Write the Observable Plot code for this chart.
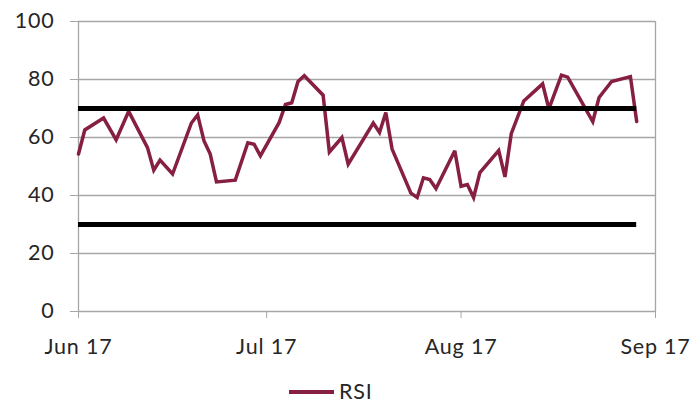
<!DOCTYPE html>
<html>
<head>
<meta charset="utf-8">
<script src="https://cdn.jsdelivr.net/npm/d3@7"></script>
<script src="https://cdn.jsdelivr.net/npm/@observablehq/plot@0.6"></script>
<style>
  html, body { margin: 0; padding: 0; background: #fff; }
  #chart svg text { letter-spacing: 0.8px; }
  #legend { position: relative; width: 691px; height: 35px; font-family: Lato, sans-serif; font-size: 21.5px; color: #262626; letter-spacing: 0.8px; }
  #legend .swatch { position: absolute; left: 289px; top: 20px; width: 45px; height: 4px; background: #861F41; }
  #legend .label { position: absolute; left: 339px; top: 7px; line-height: 28px; }
</style>
</head>
<body>
<div id="chart"></div>
<div id="legend"><span class="swatch"></span><span class="label">RSI</span></div>
<script>
// Trading dates and RSI values
const dates = [
  "2017-06-01","2017-06-02","2017-06-05","2017-06-07","2017-06-09","2017-06-12","2017-06-13",
  "2017-06-14","2017-06-16","2017-06-19","2017-06-20","2017-06-21","2017-06-22","2017-06-23",
  "2017-06-26","2017-06-28","2017-06-29","2017-06-30","2017-07-03","2017-07-04","2017-07-05",
  "2017-07-06","2017-07-07","2017-07-10","2017-07-11","2017-07-13","2017-07-14","2017-07-18",
  "2017-07-19","2017-07-20","2017-07-21","2017-07-24","2017-07-25","2017-07-26","2017-07-27",
  "2017-07-28","2017-07-31","2017-08-01","2017-08-02","2017-08-03","2017-08-04","2017-08-07",
  "2017-08-08","2017-08-09","2017-08-11","2017-08-14","2017-08-15","2017-08-17","2017-08-18",
  "2017-08-22","2017-08-23","2017-08-25","2017-08-28","2017-08-29"
];
const rsi = [
  54.3, 62.6, 66.7, 59.2, 69.0, 56.5, 48.7,
  52.2, 47.4, 65.0, 67.8, 58.9, 54.3, 44.7,
  45.3, 58.2, 57.7, 53.7, 65.2, 71.4, 72.0,
  79.3, 81.3, 74.6, 55.0, 60.0, 50.8, 65.0,
  61.7, 68.6, 56.0, 40.8, 39.3, 46.1, 45.5,
  42.4, 55.4, 43.2, 43.8, 39.3, 47.9, 55.5,
  46.4, 61.3, 72.6, 78.5, 69.9, 81.5, 80.8,
  65.5, 73.8, 79.3, 81.0, 65.5
];
const levels = [70, 30];          // overbought / oversold
const yTicks = [0, 20, 40, 60, 80, 100];
const xTickDates = ["2017-06-01", "2017-07-01", "2017-08-01", "2017-09-01"];

const parse = d3.utcParse("%Y-%m-%d");
const data = dates.map((d, i) => ({date: parse(d), value: rsi[i]}));
const xTicks = xTickDates.map(parse);
const first = data[0].date, last = data[data.length - 1].date;

const grid = "#a6a6a6";
const chart = Plot.plot({
  width: 691,
  height: 370,
  marginLeft: 78,
  marginRight: 36,
  marginTop: 21,
  marginBottom: 59,
  style: {fontFamily: "Lato, sans-serif", fontSize: "21.5px", color: "#262626", background: "#fff"},
  x: {type: "utc", domain: [xTicks[0], xTicks[xTicks.length - 1]]},
  y: {domain: [0, 100]},
  marks: [
    Plot.ruleY(yTicks, {stroke: grid, strokeWidth: 1.3}),
    Plot.ruleX([xTicks[0], xTicks[xTicks.length - 1]], {y1: 0, y2: 100, stroke: grid, strokeWidth: 1.3}),
    Plot.axisY(yTicks, {tickSize: 8, tickPadding: 16, stroke: grid, fill: "#262626", label: null}),
    Plot.axisX(xTicks, {tickSize: 7, tickPadding: 20, stroke: grid, fill: "#262626", tickFormat: d3.utcFormat("%b %y"), label: null}),
    Plot.line(data, {x: "date", y: "value", stroke: "#861F41", strokeWidth: 3.5, strokeLinejoin: "miter", strokeMiterlimit: 3}),
    Plot.ruleY(levels, {x1: first, x2: last, stroke: "#000", strokeWidth: 5})
  ]
});
document.getElementById("chart").appendChild(chart);
</script>
</body>
</html>
